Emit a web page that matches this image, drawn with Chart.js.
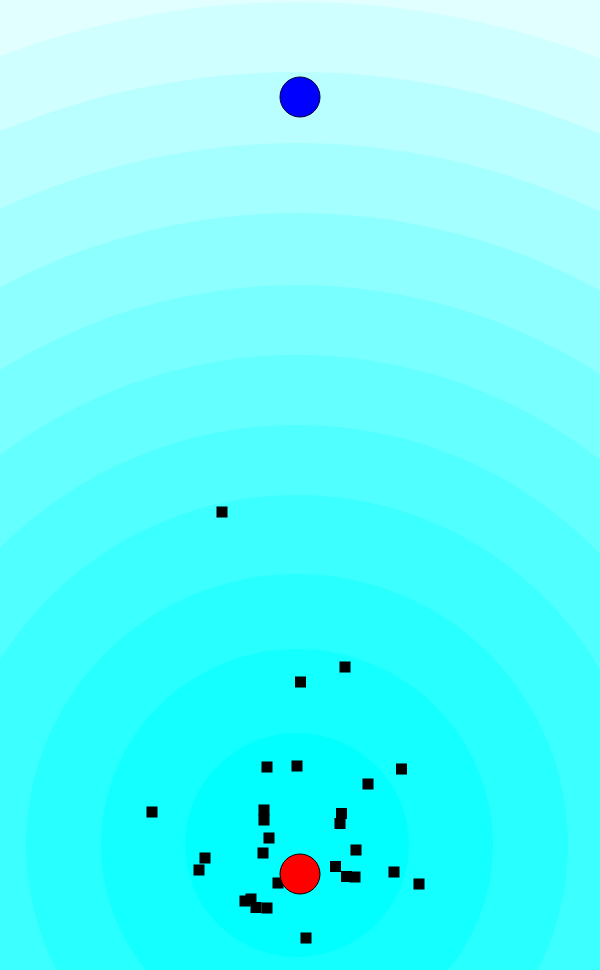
<!DOCTYPE html>
<html>
<head>
<meta charset="utf-8">
<script src="https://cdn.jsdelivr.net/npm/chart.js@4/dist/chart.umd.min.js"></script>
<style>
  html, body { margin: 0; padding: 0; background: #fff; }
  #wrap { width: 600px; height: 970px; }
</style>
</head>
<body>
<div id="wrap"><canvas id="c" width="600" height="970"></canvas></div>
<script>
// ---- data (x: 0..600, y: 0..970 measured downward) ----
const obstacleX = [222, 300.5, 345, 267, 297, 401.5, 368, 152, 264, 264, 341.5, 340, 269, 263, 356, 205, 199, 335.5, 346.5, 355, 394, 419, 278, 245, 251, 256, 267, 306];
const obstacleY = [512, 682, 667, 767, 766, 769, 784, 812, 810, 820, 813.5, 823.5, 838, 853, 850, 858, 870, 866.5, 876.5, 877, 872, 884, 883, 901, 899, 907.5, 908, 938];
const goalPoint = [300, 874];
const startPoint = [300, 97];
// field level rings: centre and radii (in data units)
const fieldCentre = [297, 845];
const fieldLevels = [112, 196, 271, 350, 420, 490, 560, 632, 702, 773, 843];
const levelShade = [2, 20, 40, 60, 80, 100, 120, 142, 164, 186, 208, 226, 240];

const fieldPlugin = {
  id: 'field',
  beforeDatasetsDraw(chart) {
    const { ctx, chartArea: a, scales: { x, y } } = chart;
    ctx.save();
    ctx.beginPath();
    ctx.rect(a.left, a.top, a.right - a.left, a.bottom - a.top);
    ctx.clip();
    const n = fieldLevels.length;
    ctx.fillStyle = `rgb(${levelShade[n + 1]},255,255)`;
    ctx.fillRect(a.left, a.top, a.right - a.left, a.bottom - a.top);
    const cx = x.getPixelForValue(fieldCentre[0]);
    const cy = y.getPixelForValue(fieldCentre[1]);
    // outer-corner band
    ctx.beginPath();
    ctx.arc(cx, cy, Math.abs(x.getPixelForValue(fieldCentre[0] + fieldLevels[n - 1] + 60) - cx), 0, Math.PI * 2);
    ctx.fillStyle = `rgb(${levelShade[n]},255,255)`;
    ctx.fill();
    for (let i = n - 1; i >= 0; i--) {
      const r = Math.abs(x.getPixelForValue(fieldCentre[0] + fieldLevels[i]) - cx);
      ctx.beginPath();
      ctx.arc(cx, cy, r, 0, Math.PI * 2);
      ctx.fillStyle = `rgb(${levelShade[i]},255,255)`;
      ctx.fill();
    }
    ctx.restore();
  }
};

const obstacles = obstacleX.map((v, i) => ({ x: v, y: obstacleY[i] }));

new Chart(document.getElementById('c'), {
  type: 'scatter',
  data: {
    datasets: [
      {
        label: 'goal',
        data: [{ x: goalPoint[0], y: goalPoint[1] }],
        pointRadius: 20,
        pointHoverRadius: 20,
        backgroundColor: '#ff0000',
        borderColor: '#000000',
        borderWidth: 1,
        order: 0
      },
      {
        label: 'start',
        data: [{ x: startPoint[0], y: startPoint[1] }],
        pointRadius: 20,
        pointHoverRadius: 20,
        backgroundColor: '#0000ff',
        borderColor: '#000033',
        borderWidth: 1,
        order: 0
      },
      {
        label: 'obstacles',
        data: obstacles,
        pointStyle: 'rect',
        pointRadius: 7.8,
        pointHoverRadius: 7.8,
        backgroundColor: '#000000',
        borderWidth: 0,
        order: 1
      }
    ]
  },
  options: {
    responsive: false,
    animation: false,
    layout: { padding: 0, autoPadding: false },
    plugins: { legend: { display: false }, tooltip: { enabled: false } },
    scales: {
      x: { type: 'linear', min: 0, max: 600, display: false },
      y: { type: 'linear', min: 0, max: 970, reverse: true, display: false }
    }
  },
  plugins: [fieldPlugin]
});
</script>
</body>
</html>
